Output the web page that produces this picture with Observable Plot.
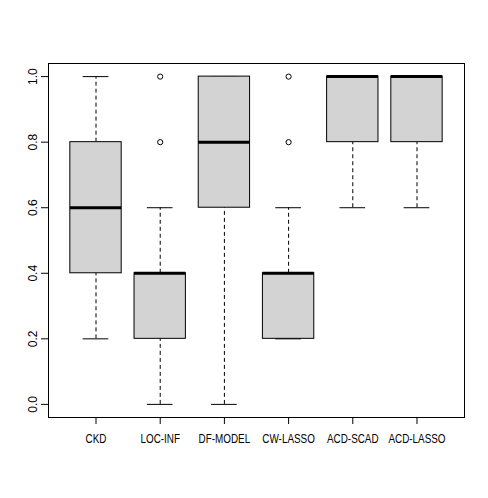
<!DOCTYPE html>
<html>
<head>
<meta charset="utf-8">
<script src="https://cdn.jsdelivr.net/npm/d3@7"></script>
<script src="https://cdn.jsdelivr.net/npm/@observablehq/plot@0.6"></script>
<style>
  html, body { margin: 0; padding: 0; background: #fff; }
  #chart svg { display: block; }
</style>
</head>
<body>
<div id="chart"></div>
<script>
const categories   = ["CKD", "LOC-INF", "DF-MODEL", "CW-LASSO", "ACD-SCAD", "ACD-LASSO"];
const lowerWhisker = [0.2, 0.0, 0.0, 0.2, 0.6, 0.6];
const q1           = [0.4, 0.2, 0.6, 0.2, 0.8, 0.8];
const medians      = [0.6, 0.4, 0.8, 0.4, 1.0, 1.0];
const q3           = [0.8, 0.4, 1.0, 0.4, 1.0, 1.0];
const upperWhisker = [1.0, 0.6, 1.0, 0.6, 1.0, 1.0];
const outlierGroup = ["LOC-INF", "LOC-INF", "CW-LASSO", "CW-LASSO"];
const outlierValue = [0.8, 1.0, 0.8, 1.0];
const yTicks = [0, 0.2, 0.4, 0.6, 0.8, 1.0];

const boxes = categories.map((c, i) => ({
  cat: c, pos: i + 1,
  lo: lowerWhisker[i], q1: q1[i], med: medians[i], q3: q3[i], hi: upperWhisker[i]
}));
const outliers = outlierGroup.map((c, i) => ({pos: categories.indexOf(c) + 1, v: outlierValue[i]}));

const halfBox = 0.4, halfCap = 0.2;
const font = "'Liberation Sans', Arial, sans-serif";

const chart = Plot.plot({
  width: 488,
  height: 498,
  marginLeft: 48,
  marginRight: 24,
  marginTop: 63,
  marginBottom: 81,
  style: {fontFamily: font, fontSize: "12px", color: "#000", background: "#fff"},
  x: {domain: [0.26, 6.74], axis: null},
  y: {domain: [-0.04, 1.04], axis: null},
  marks: [
    Plot.ruleX(boxes, {x: "pos", y1: "q3", y2: "hi", stroke: "#000", strokeWidth: 1, strokeDasharray: "4,3"}),
    Plot.ruleX(boxes, {x: "pos", y1: "lo", y2: "q1", stroke: "#000", strokeWidth: 1, strokeDasharray: "4,3"}),
    Plot.ruleY(boxes, {y: "hi", x1: d => d.pos - halfCap, x2: d => d.pos + halfCap, stroke: "#000", strokeWidth: 1}),
    Plot.ruleY(boxes, {y: "lo", x1: d => d.pos - halfCap, x2: d => d.pos + halfCap, stroke: "#000", strokeWidth: 1}),
    Plot.rect(boxes, {x1: d => d.pos - halfBox, x2: d => d.pos + halfBox, y1: "q1", y2: "q3",
      fill: "#d3d3d3", stroke: "#000", strokeWidth: 1}),
    Plot.ruleY(boxes, {y: "med", x1: d => d.pos - halfBox, x2: d => d.pos + halfBox, stroke: "#000", strokeWidth: 3}),
    Plot.dot(outliers, {x: "pos", y: "v", r: 2.6, stroke: "#000", strokeWidth: 1, fill: "none"}),
    Plot.frame({stroke: "#000", strokeWidth: 1}),
    Plot.axisX(categories.map((c, i) => i + 1), {
      label: null, tickSize: 7, tickPadding: 10, tickFormat: d => categories[d - 1],
      fontSize: 12.5, fill: "#000", stroke: "#000", ariaLabel: "x-axis"
    }),
    Plot.axisY(yTicks, {
      label: null, tickSize: 7, tickPadding: 5, tickFormat: d3.format(".1f"), tickRotate: -90,
      fontSize: 12, fill: "#000", stroke: "#000", textAnchor: "middle", dx: 0
    })
  ]
});
document.getElementById("chart").appendChild(chart);
// condense x tick labels to mimic R's narrow font
chart.querySelectorAll('g[aria-label="x-axis tick label"] text').forEach(t => {
  const len = t.getComputedTextLength();
  t.setAttribute("textLength", (len * 0.79).toFixed(1));
  t.setAttribute("lengthAdjust", "spacingAndGlyphs");
});
</script>
</body>
</html>
